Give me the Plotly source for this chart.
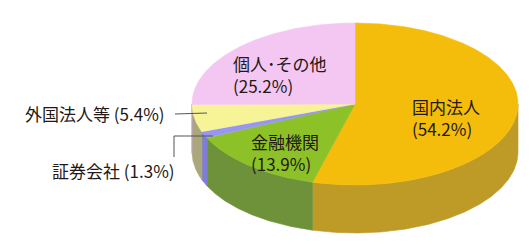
import numpy as np
import plotly.graph_objects as go

# ---- data ----
categories = ["国内法人", "金融機関", "証券会社", "外国法人等", "個人･その他"]
shares = [54.2, 13.9, 1.3, 5.4, 25.2]
pct_labels = ["(54.2%)", "(13.9%)", "(1.3%)", "(5.4%)", "(25.2%)"]
top_colors = ["#F5BD0B", "#8CC128", "#9797EE", "#F6F497", "#F4C7F2"]
side_colors = ["#BE9A27", "#6E923A", "#7E7ED6", "#AAA87A", "#C9A0C8"]

# ---- geometry of the pseudo-3D pie (pixel space) ----
CX, CY, RX, RY, DEPTH = 355.0, 104.0, 163.0, 81.0, 48.0
W, H = 530, 250
FONT = "Noto Sans CJK JP"
TXT = "#231815"
FS = 17


def ell(theta_deg, dy=0.0):
    t = np.radians(theta_deg)
    return CX + RX * np.sin(t), CY - RY * np.cos(t) + dy


fig = go.Figure()

cum = np.concatenate([[0.0], np.cumsum(shares)])
angles = cum / cum[-1] * 360.0

# side faces (front half only: 90..270 deg clockwise from 12 o'clock)
for i in range(len(shares)):
    a, b = angles[i], angles[i + 1]
    lo, hi = max(a, 90.0), min(b, 270.0)
    if lo >= hi:
        continue
    th = np.linspace(lo, hi, 200)
    xt, yt = ell(th)
    xb, yb = ell(th[::-1], DEPTH)
    xs = np.concatenate([xt, xb, xt[:1]])
    ys = np.concatenate([yt, yb, yt[:1]])
    fig.add_trace(go.Scatter(x=xs, y=ys, mode="lines", fill="toself",
                             fillcolor=side_colors[i],
                             line=dict(width=0.6, color=side_colors[i]),
                             hoverinfo="skip", showlegend=False))

# top faces
for i in range(len(shares)):
    a, b = angles[i], angles[i + 1]
    th = np.linspace(a, b, max(20, int((b - a) * 3)))
    xt, yt = ell(th)
    xs = np.concatenate([[CX], xt, [CX]])
    ys = np.concatenate([[CY], yt, [CY]])
    fig.add_trace(go.Scatter(x=xs, y=ys, mode="lines", fill="toself",
                             fillcolor=top_colors[i],
                             line=dict(width=0.6, color=top_colors[i]),
                             hoverinfo="skip", showlegend=False))

# leader lines
fig.add_trace(go.Scatter(x=[175, 207], y=[114, 113], mode="lines",
                         line=dict(color="#555555", width=1),
                         hoverinfo="skip", showlegend=False))
fig.add_trace(go.Scatter(x=[174, 174, 213], y=[157, 136, 136], mode="lines",
                         line=dict(color="#555555", width=1),
                         hoverinfo="skip", showlegend=False))

# labels inside the pie (two lines each)
inside = {0: (410, 117), 1: (249, 152), 4: (231, 74)}
for i, (x, y) in inside.items():
    fig.add_annotation(x=x, y=y, text=categories[i] + "<br>" + pct_labels[i],
                       showarrow=False, xanchor="left", yanchor="middle", align="left",
                       font=dict(family=FONT, size=FS, color=TXT))

# outside labels
fig.add_annotation(x=23, y=113, text=categories[3] + " " + pct_labels[3], showarrow=False,
                   xanchor="left", yanchor="middle",
                   font=dict(family=FONT, size=FS, color=TXT))
fig.add_annotation(x=50, y=170, text=categories[2] + " " + pct_labels[2], showarrow=False,
                   xanchor="left", yanchor="middle",
                   font=dict(family=FONT, size=FS, color=TXT))

fig.update_layout(
    width=W, height=H, margin=dict(l=0, r=0, t=0, b=0),
    paper_bgcolor="white", plot_bgcolor="white",
    xaxis=dict(range=[0, W], visible=False, fixedrange=True),
    yaxis=dict(range=[H, 0], visible=False, fixedrange=True),
    showlegend=False,
)

fig.write_html("out.html", config={"displayModeBar": False})
